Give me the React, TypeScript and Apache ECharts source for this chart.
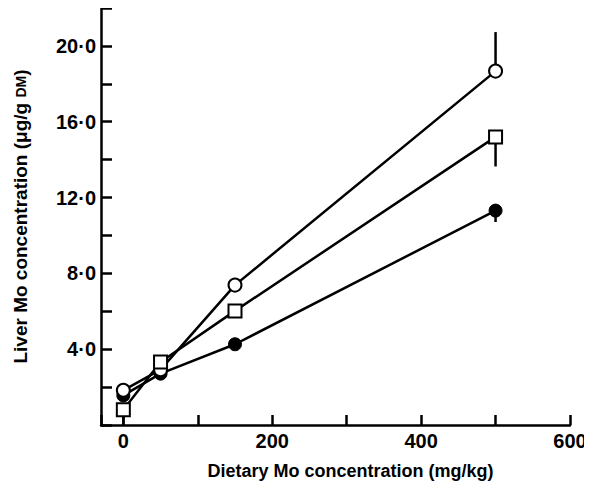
import React, { useEffect, useRef } from "react";
import * as echarts from "echarts";

const doses = [0, 50, 150, 500];
const openCircle = [1.83, 2.92, 7.38, 18.67];
const openCircleErrUp = [0, 0, 0, 2.06];
const openSquare = [0.8, 3.32, 6.02, 15.2];
const openSquareErrDown = [0.8, 0, 0, 1.56];
const filledCircle = [1.56, 2.71, 4.26, 11.31];
const filledCircleErrDown = [0, 0, 0, 0.6];

const xLabelValues = [0, 200, 400, 600];
const yLabelValues = [4, 8, 12, 16, 20];

const FONT = "Liberation Sans, Arial, Helvetica, sans-serif";

function errorSegments(values: number[], up: number[], down: number[]) {
  const out: number[][] = [];
  values.forEach((v, i) => {
    if (up[i] > 0) out.push([doses[i], v, v + up[i]]);
    if (down[i] > 0) out.push([doses[i], v, v - down[i]]);
  });
  return out;
}

export default function App() {
  const ref = useRef<HTMLDivElement>(null);
  useEffect(() => {
    if (!ref.current) return;
    const chart = echarts.init(ref.current, undefined, { renderer: "svg" });
    const zeros = [0, 0, 0, 0];
    const errData = [
      ...errorSegments(openCircle, openCircleErrUp, zeros),
      ...errorSegments(openSquare, zeros, openSquareErrDown),
      ...errorSegments(filledCircle, zeros, filledCircleErrDown),
    ];
    const lineCommon = {
      type: "line" as const,
      symbolSize: 13,
      lineStyle: { color: "#000", width: 2.5 },
      z: 3,
    };
    const titleStyle = { fontSize: 18, fontWeight: "bold", color: "#000", fontFamily: FONT };
    const yTitleStyle = { ...titleStyle, fontSize: 19 };
    chart.setOption({
      animation: false,
      backgroundColor: "#fff",
      textStyle: { fontFamily: FONT },
      grid: { left: 101, right: 22, top: 8, bottom: 69 },
      xAxis: {
        type: "value",
        min: -30,
        max: 600,
        name: "Dietary Mo concentration (mg/kg)",
        nameLocation: "middle",
        nameGap: 37,
        nameTextStyle: {
          ...titleStyle,
          padding: [0, 0, 0, 30],
          verticalAlign: "top",
        },
        axisLine: { onZero: false, lineStyle: { color: "#000", width: 2.5 } },
        axisTick: { inside: true, length: 10, lineStyle: { color: "#000", width: 2.5 } },
        splitLine: { show: false },
        axisLabel: {
          fontSize: 20,
          fontWeight: "bold",
          color: "#000",
          margin: 6,
          formatter: (v: number) => (xLabelValues.includes(v) ? String(v) : ""),
        },
      },
      yAxis: {
        type: "value",
        min: 0,
        max: 22,
        interval: 2,
        name: "{t|Liver Mo concentration (\u03bcg/g }{sc|DM}{t|)}",
        nameLocation: "middle",
        nameGap: 71,
        nameTextStyle: {
          ...yTitleStyle,
          rich: {
            t: { ...yTitleStyle },
            sc: { ...yTitleStyle, fontSize: 14 },
          },
        },
        axisLine: { onZero: false, lineStyle: { color: "#000", width: 2.5 } },
        axisTick: { inside: true, length: 11, lineStyle: { color: "#000", width: 2.5 } },
        splitLine: { show: false },
        axisLabel: {
          fontSize: 20,
          fontWeight: "bold",
          color: "#000",
          margin: 5,
          formatter: (v: number) =>
            yLabelValues.includes(v) ? v.toFixed(1).replace(".", "\u00b7") : "",
        },
      },
      series: [
        {
          type: "custom",
          z: 2,
          data: errData,
          renderItem: (params: any, api: any) => {
            const p1 = api.coord([api.value(0), api.value(1)]);
            const p2 = api.coord([api.value(0), api.value(2)]);
            return {
              type: "line",
              shape: { x1: p1[0], y1: p1[1], x2: p2[0], y2: p2[1] },
              style: { stroke: "#000", lineWidth: 2.5 },
            };
          },
        },
        {
          ...lineCommon,
          name: "filled",
          symbol: "circle",
          itemStyle: { color: "#000", borderColor: "#000", borderWidth: 1 },
          data: doses.map((d, i) => [d, filledCircle[i]]),
        },
        {
          ...lineCommon,
          name: "open circle",
          symbol: "circle",
          itemStyle: { color: "#fff", borderColor: "#000", borderWidth: 2 },
          data: doses.map((d, i) => [d, openCircle[i]]),
        },
        {
          ...lineCommon,
          name: "square",
          symbol: "rect",
          itemStyle: { color: "#fff", borderColor: "#000", borderWidth: 2 },
          data: doses.map((d, i) => [d, openSquare[i]]),
        },
      ],
    });
    return () => chart.dispose();
  }, []);
  return <div ref={ref} style={{ width: 592, height: 494, margin: -8 }} />;
}
